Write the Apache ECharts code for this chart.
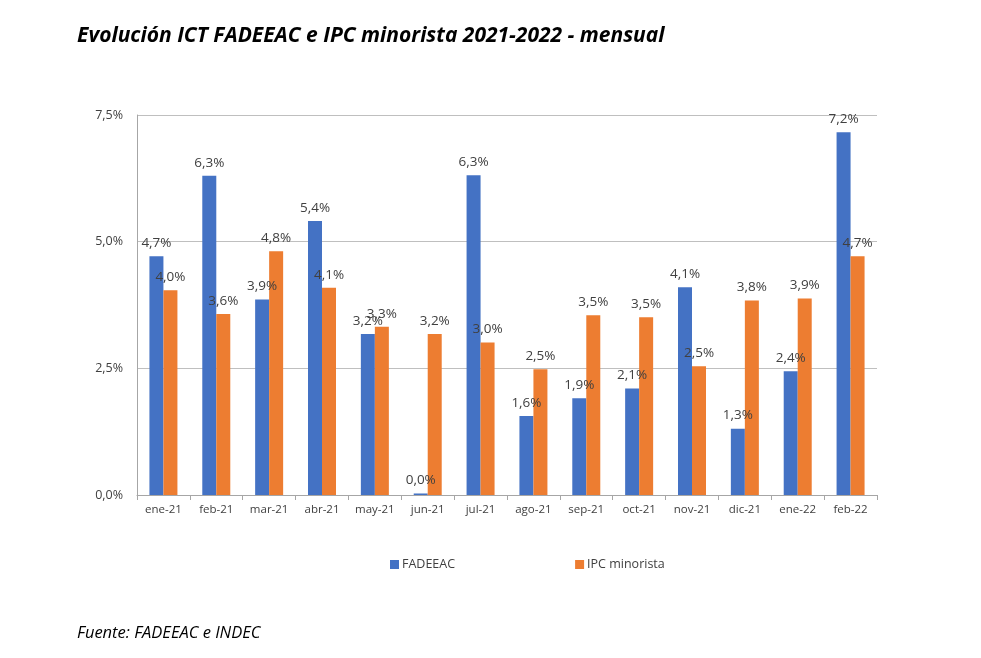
<!DOCTYPE html>
<html><head><meta charset="utf-8">
<script src="https://cdn.jsdelivr.net/npm/echarts@6/dist/echarts.min.js"></script>
<style>html,body{margin:0;padding:0;background:#fff}#c{width:981px;height:658px}</style>
</head><body><div id="c"></div>
<script>
var categories = ["ene-21","feb-21","mar-21","abr-21","may-21","jun-21","jul-21","ago-21","sep-21","oct-21","nov-21","dic-21","ene-22","feb-22"];
var fadeeac = [4.71,6.30,3.86,5.41,3.18,0.03,6.31,1.56,1.91,2.10,4.10,1.31,2.44,7.16];
var ipc = [4.04,3.57,4.81,4.09,3.32,3.18,3.01,2.48,3.55,3.51,2.54,3.84,3.88,4.71];
var yTicks = [0, 2.5, 5, 7.5];

function pct(v){ return v.toFixed(1).replace('.', ',') + '%'; }

var chart = echarts.init(document.getElementById('c'));
var font = 'Open Sans';
chart.setOption({
  animation:false,
  title:[
    {text:'Evolución ICT FADEEAC e IPC minorista 2021-2022 - mensual', left:72, top:21,
     textStyle:{fontFamily:font, fontStyle:'italic', fontWeight:'bold', fontSize:21, color:'#000'}},
    {text:'Fuente: FADEEAC e INDEC', left:72, top:620,
     textStyle:{fontFamily:font, fontStyle:'italic', fontWeight:'normal', fontSize:16.5, color:'#000'}}
  ],
  legend:{
    top:553, left:385, itemGap:120, itemWidth:9, itemHeight:9, icon:'rect',
    textStyle:{fontFamily:font, fontSize:12.5, color:'#404040', padding:[0,0,0,-2]},
    data:['FADEEAC','IPC minorista']
  },
  grid:{left:137, right:104, top:115, bottom:163},
  xAxis:{
    type:'category', data:categories, boundaryGap:true,
    axisLine:{lineStyle:{color:'#a6a6a6'}},
    axisTick:{show:true, alignWithLabel:false, length:5, lineStyle:{color:'#a6a6a6'}},
    axisLabel:{fontFamily:font, fontSize:11.5, color:'#404040', margin:9}
  },
  yAxis:{
    type:'value', min:0, max:7.5, interval:2.5,
    axisLine:{show:true, lineStyle:{color:'#a6a6a6'}},
    axisTick:{show:false},
    splitLine:{lineStyle:{color:'#bfbfbf'}},
    axisLabel:{fontFamily:font, fontSize:12.5, color:'#404040', margin:14,
      formatter:function(v){ return yTicks.indexOf(v) >= 0 ? pct(v) : ''; }}
  },
  series:[
    {name:'FADEEAC', type:'bar', data:fadeeac, barWidth:14, barGap:'0%',
     itemStyle:{color:'#4472c4'},
     label:{show:true, position:'top', distance:6, fontFamily:font, fontSize:13.5, color:'#404040',
       formatter:function(p){ return pct(p.value); }}},
    {name:'IPC minorista', type:'bar', data:ipc, barWidth:14,
     itemStyle:{color:'#ed7d31'},
     label:{show:true, position:'top', distance:6, fontFamily:font, fontSize:13.5, color:'#404040',
       formatter:function(p){ return pct(p.value); }}}
  ]
});
</script></body></html>
